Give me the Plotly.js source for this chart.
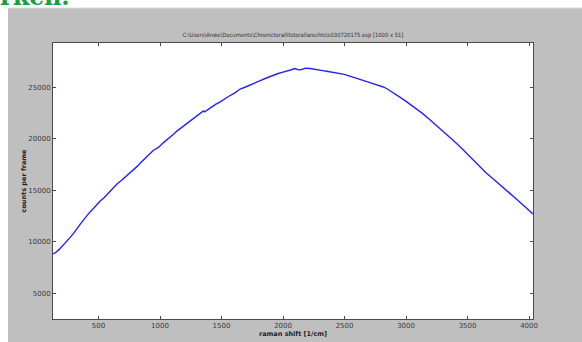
<!DOCTYPE html>
<html>
<head>
<meta charset="utf-8">
<script src="https://cdn.plot.ly/plotly-3.0.1.min.js"></script>
<style>
  html, body { margin: 0; padding: 0; background: #ffffff; }
  #chart { width: 582px; height: 342px; }
</style>
</head>
<body>
<div id="chart"></div>
<script>
// Raman spectrum: raman shift [1/cm] vs. counts per frame
const ramanShift = [
  130, 155, 180, 210, 244, 270, 300, 325, 352, 380,
  406, 433, 460, 487, 514, 547, 580, 615, 650, 690,
  730, 770, 812, 846, 880, 913, 947, 975, 1000, 1028,
  1056, 1083, 1110, 1137, 1164, 1207, 1250, 1300, 1340, 1353,
  1362, 1420, 1455, 1489, 1525, 1560, 1605, 1651, 1685, 1720,
  1753, 1787, 1820, 1850, 1885, 1921, 1960, 2000, 2030, 2060,
  2098, 2125, 2150, 2185, 2220, 2255, 2290, 2322, 2355, 2388,
  2420, 2463, 2497, 2530, 2565, 2599, 2650, 2700, 2757, 2815,
  2845, 2870, 2897, 2924, 2962, 3000, 3043, 3086, 3133, 3180,
  3227, 3275, 3318, 3360, 3398, 3437, 3493, 3550, 3602, 3654,
  3702, 3750, 3797, 3844, 3892, 3940, 3986, 4032
];
const countsPerFrame = [
  8800, 8980, 9250, 9620, 10050, 10420, 10850, 11300, 11700, 12150,
  12550, 12920, 13250, 13630, 13950, 14300, 14700, 15180, 15620, 16000,
  16400, 16800, 17300, 17720, 18100, 18560, 18900, 19080, 19300, 19640,
  19900, 20180, 20450, 20760, 21000, 21380, 21800, 22200, 22560, 22720,
  22630, 23150, 23380, 23600, 23900, 24150, 24460, 24850, 25000, 25200,
  25380, 25550, 25700, 25850, 26030, 26200, 26360, 26500, 26580, 26700,
  26850, 26720, 26750, 26880, 26850, 26760, 26700, 26640, 26580, 26520,
  26450, 26350, 26280, 26150, 26040, 25870, 25700, 25500, 25300, 25050,
  24880, 24700, 24460, 24250, 23960, 23650, 23300, 22950, 22480, 22000,
  21520, 21000, 20560, 20100, 19700, 19250, 18560, 17900, 17260, 16650,
  16170, 15700, 15180, 14700, 14200, 13700, 13200, 12700
];
const xTicks = [500, 1000, 1500, 2000, 2500, 3000, 3500, 4000];
const yTicks = [5000, 10000, 15000, 20000, 25000];

const fileTitle = 'C:\\Users\\Anwe\\Documents\\Chronictorallitstorallarechts\\s030720175.esp [1000 x 51]';

// figure geometry (pixels)
const W = 582, H = 342;
const M = { l: 53, r: 49, t: 43, b: 23 };
const pw = W - M.l - M.r, ph = H - M.t - M.b;
const px = v => (v - M.l) / pw;          // pixel x -> paper x
const py = v => (H - M.b - v) / ph;      // pixel y -> paper y

const tickFont = { family: 'DejaVu Sans, sans-serif', size: 7, color: '#3a3a3a' };
const axisCommon = {
  showgrid: false, zeroline: false,
  showline: true, linecolor: '#4a4a4a', linewidth: 1, mirror: 'ticks',
  ticks: 'inside', ticklen: 3, tickwidth: 1, tickcolor: '#4a4a4a',
  tickfont: tickFont
};

const trace = {
  x: ramanShift, y: countsPerFrame,
  type: 'scatter', mode: 'lines',
  line: { color: 'rgb(35,35,250)', width: 1.4 },
  hoverinfo: 'skip'
};

const layout = {
  width: W, height: H,
  margin: M,
  paper_bgcolor: '#ffffff',
  plot_bgcolor: 'rgba(0,0,0,0)',
  showlegend: false,
  title: {
    text: fileTitle,
    font: { family: 'DejaVu Sans Condensed, DejaVu Sans, sans-serif', size: 5.8, color: '#333' },
    x: 0.5, xref: 'paper', y: 1 - 35 / H, yanchor: 'middle'
  },
  xaxis: Object.assign({}, axisCommon, {
    range: [130, 4032],
    tickvals: xTicks, ticktext: xTicks.map(String),
    title: { text: 'raman shift [1/cm]', standoff: 2,
             font: { family: 'DejaVu Sans, sans-serif', size: 6.5, color: '#222', weight: 'bold' } }
  }),
  yaxis: Object.assign({}, axisCommon, {
    range: [2476, 29330],
    tickvals: yTicks, ticktext: yTicks.map(String),
    title: { text: 'counts per frame', standoff: 0,
             font: { family: 'DejaVu Sans, sans-serif', size: 6.5, color: '#222', weight: 'bold' } }
  }),
  shapes: [
    // grey figure frame
    { type: 'rect', xref: 'paper', yref: 'paper', layer: 'below',
      x0: px(8), x1: px(W), y0: py(H), y1: py(8),
      fillcolor: '#bfbfbf', line: { width: 0 } },
    { type: 'line', xref: 'paper', yref: 'paper', layer: 'below',
      x0: px(8), x1: px(W), y0: py(8), y1: py(8),
      line: { color: '#dcdcdc', width: 1 } },
    // white axes background
    { type: 'rect', xref: 'paper', yref: 'paper', layer: 'below',
      x0: 0, x1: 1, y0: 0, y1: 1,
      fillcolor: '#ffffff', line: { width: 0 } }
  ],
  annotations: [
    { text: 'rkch.', xref: 'paper', yref: 'paper',
      x: px(-2), y: py(13), xanchor: 'left', yanchor: 'bottom',
      showarrow: false,
      font: { family: 'DejaVu Serif, serif', size: 24, color: '#17a043', weight: 'bold' } }
  ]
};

Plotly.newPlot('chart', [trace], layout, { displayModeBar: false, staticPlot: true });
</script>
</body>
</html>
